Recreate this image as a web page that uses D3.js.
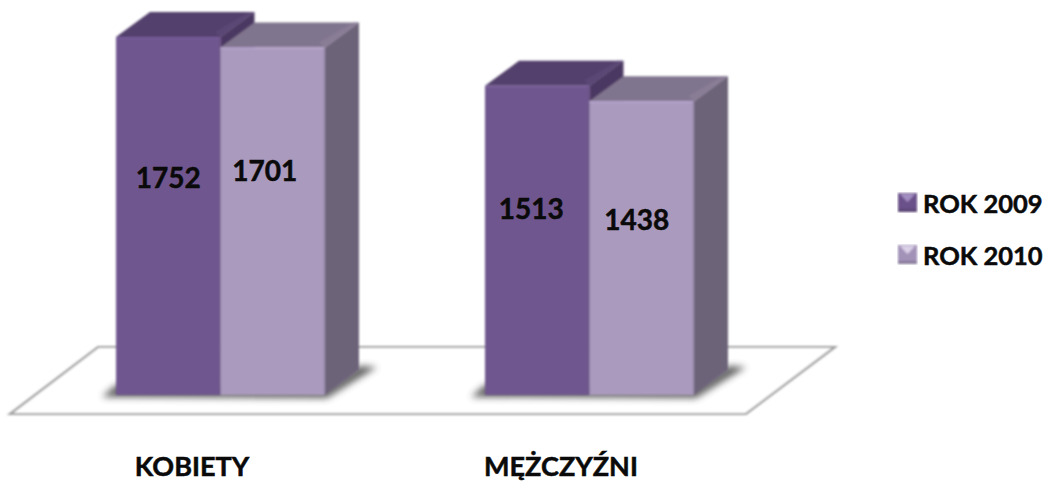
<!DOCTYPE html>
<html><head><meta charset="utf-8">
<script src="https://cdn.jsdelivr.net/npm/d3@7"></script>
<style>html,body{margin:0;padding:0;background:#fff}svg{display:block}text{font-family:Lato,Carlito,sans-serif;font-weight:700;fill:#0a0a0a;stroke:#0a0a0a;stroke-width:0.5px}</style>
</head><body><svg id="c" width="1046" height="482"></svg>
<script>
const categories = ["KOBIETY", "MĘŻCZYŹNI"];
const seriesNames = ["ROK 2009", "ROK 2010"];
const values2009 = [1752, 1513];
const values2010 = [1701, 1438];

const palette = {
  "ROK 2009": {front:"#70568f", top:"#53406c", side:"#4b3962", edge:"#5e4879", legend:"#6b5189", glow:"#a48fc2"},
  "ROK 2010": {front:"#aa9abe", top:"#80748e", side:"#6d6379", edge:"#8d8199", legend:"#a292b8", glow:"#dcd2e8"}
};
const seriesValues = {"ROK 2009": values2009, "ROK 2010": values2010};
const depth = {x:34, y:25};
const labelShift = {"ROK 2009":[[0,-39],[-6,-32]], "ROK 2010":[[-8,-51],[-5,-29]]};

const svg = d3.select("#c");
const defs = svg.append("defs");
defs.append("filter").attr("id","soft").attr("x","-5%").attr("y","-5%").attr("width","110%").attr("height","110%")
  .append("feGaussianBlur").attr("stdDeviation",0.9);
defs.append("filter").attr("id","shadow").attr("x","-30%").attr("y","-30%").attr("width","160%").attr("height","160%")
  .append("feGaussianBlur").attr("stdDeviation",3.5);

const y = d3.scaleLinear().domain([0,1752]).range([395,37]);
const x0 = d3.scaleBand().domain(categories).range([116,694]).paddingInner(0.4336);
const x1 = d3.scaleBand().domain(seriesNames).range([0,x0.bandwidth()]);
const line = d3.line();

// floor
svg.append("path").attr("filter","url(#soft)")
  .attr("d", line([[98,347],[835,347],[746,414],[10,414]])+"Z")
  .attr("fill","#fff").attr("stroke","#a0a0a0").attr("stroke-width",2.2);

// shadows at the base of each group
const shadowG = svg.append("g").attr("filter","url(#shadow)").attr("fill","#444").attr("opacity",0.85);
categories.forEach(c=>{
  const l=x0(c), r=x0(c)+x0.bandwidth(), b=y(0);
  shadowG.append("path").attr("d", line([[l-14,b+2],[r+2,b+3],[r+depth.x+18,b-depth.y-3],[r+depth.x,b-depth.y-4],[r,b-6],[l,b-10]])+"Z");
});

const bars = svg.append("g").attr("filter","url(#soft)");
seriesNames.forEach(s=>{
  const col = palette[s];
  categories.forEach((c,i)=>{
    const v = seriesValues[s][i];
    const l = x0(c)+x1(s), r = l+x1.bandwidth(), t = y(v), b = y(0);
    const g = bars.append("g");
    g.append("path").attr("fill",col.side).attr("d", line([[r,t],[r+depth.x,t-depth.y],[r+depth.x,b-depth.y],[r,b]])+"Z");
    g.append("path").attr("fill",col.top).attr("d", line([[l,t],[l+depth.x,t-depth.y],[r+depth.x,t-depth.y],[r,t]])+"Z");
    g.append("path").attr("fill",col.edge).attr("d", line([[r-6,t-5],[r+depth.x-6,t-depth.y],[r+depth.x,t-depth.y],[r,t]])+"Z").attr("opacity",0.7);
    g.append("rect").attr("x",l).attr("y",t).attr("width",x1.bandwidth()).attr("height",b-t).attr("fill",col.front);
    g.append("rect").attr("x",l).attr("y",t).attr("width",x1.bandwidth()).attr("height",1.5).attr("fill",d3.color(col.front).brighter(0.25));
    g.append("rect").attr("x",r-1.5).attr("y",t).attr("width",1.5).attr("height",b-t).attr("fill",d3.color(col.front).darker(0.25));
  });
});

// value labels
seriesNames.forEach(s=>{
  categories.forEach((c,i)=>{
    const v = seriesValues[s][i];
    const [dx,dy] = labelShift[s][i];
    const l = x0(c)+x1(s)+x1.bandwidth()/2+dx;
    const my = (y(v)+y(0))/2+dy;
    svg.append("text").attr("x",l).attr("y",my).attr("text-anchor","middle")
      .attr("dominant-baseline","central").attr("font-size",28).text(v);
  });
});

// category labels
const catX = {"KOBIETY":192, "MĘŻCZYŹNI":561};
categories.forEach(c=>{
  svg.append("text").attr("x",catX[c]).attr("y",476).attr("text-anchor","middle")
    .attr("font-size",27).text(c);
});

// legend
const legendY = d3.scalePoint().domain(seriesNames).range([203,255]);
seriesNames.forEach(s=>{
  const col = palette[s], cy = legendY(s), g = svg.append("g");
  const L=898,R=917,T=cy-10,B=cy+9,mx=(L+R)/2;
  const sq = g.append("g").attr("filter","url(#soft)");
  sq.append("rect").attr("x",L).attr("y",T).attr("width",R-L).attr("height",B-T).attr("fill",col.legend);
  sq.append("path").attr("d",line([[L+2,T+1],[R-2,T+1],[mx,T+9]])+"Z").attr("fill",col.glow);
  sq.append("rect").attr("x",L).attr("y",B-3).attr("width",R-L).attr("height",3).attr("fill",d3.color(col.legend).darker(0.5));
  g.append("text").attr("x",923).attr("y",cy+10).attr("font-size",25.5).text(s);
});
</script></body></html>
